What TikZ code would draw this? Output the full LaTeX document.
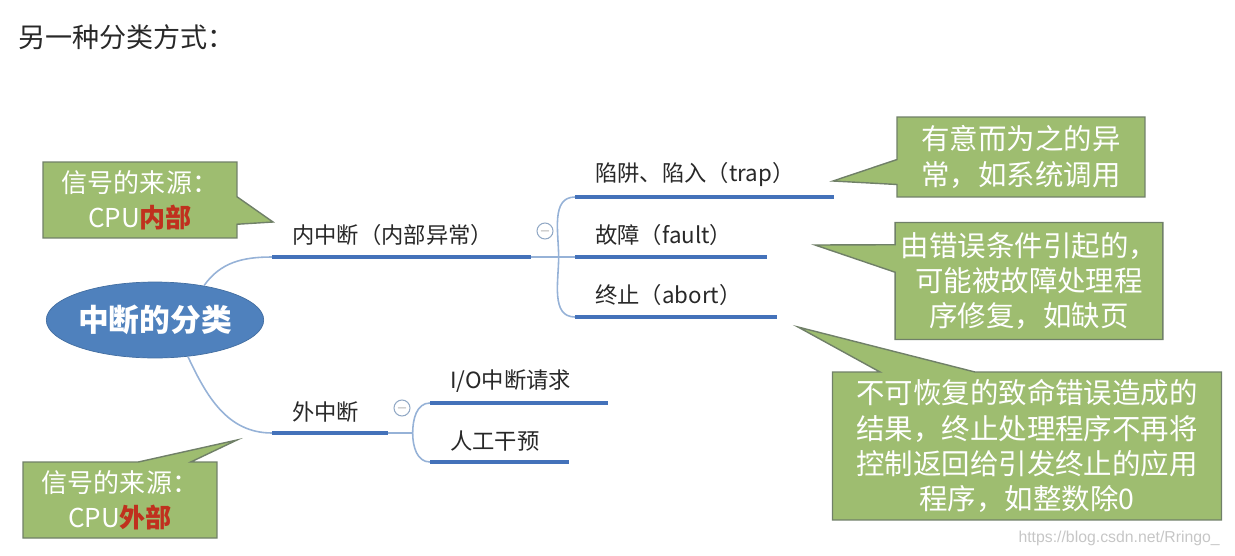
\documentclass[tikz,border=0pt]{standalone}
\usepackage{fontspec}
\setmainfont{Noto Sans CJK SC}
\newfontfamily\urlfont{Liberation Sans}
\usetikzlibrary{shapes.geometric, shapes.callouts}
\usetikzlibrary{positioning,calc}
\definecolor{rootBlue}{RGB}{79,129,189}
\definecolor{lineBlue}{RGB}{68,114,186}
\definecolor{linkBlue}{RGB}{150,178,215}
\definecolor{noteGreen}{RGB}{158,189,112}
\definecolor{noteEdge}{RGB}{112,128,104}
\definecolor{noteRed}{RGB}{192,48,30}
\definecolor{textGray}{RGB}{40,40,40}

\begin{document}
\begin{tikzpicture}[x=0.02cm, y=-0.02cm]
	%defines
	\tikzstyle{root} = [ellipse, minimum width=4.34cm, minimum height=1.52cm, inner sep=0pt, fill=rootBlue, draw=rootBlue!85!black, text=white, font=\fontsize{17.5}{20}\selectfont\bfseries]
	\tikzstyle{topic} = [anchor=south west, inner xsep=0.4cm, inner ysep=6pt, align=left, text=textGray, font=\fontsize{12.7}{15}\selectfont]
	\tikzstyle{underline} = [lineBlue, line width=2.2pt]
	\tikzstyle{link} = [linkBlue, line width=0.9pt]
	\tikzstyle{fold} = [circle, draw=linkBlue!80!gray, line width=0.6pt, minimum size=0.32cm, inner sep=0pt, text=gray, font=\scriptsize]
	\tikzstyle{note} = [rectangle callout, fill=noteGreen, draw=noteEdge, line width=0.8pt, text=white, align=center, font=\fontsize{16.2}{20}\selectfont]
	\tikzstyle{sourceNote} = [note, minimum width=3.88cm, minimum height=1.52cm, font=\fontsize{14.8}{20}\selectfont]
	\useasboundingbox (0,0) rectangle (1235,555);
	%chart
	\node[anchor=west, text=textGray, font=\fontsize{15.4}{18}\selectfont] (title) at (12,37) {另一种分类方式：};
	\node (interruptTypes) [root] at (155,320) {中断的分类};
	\node (innerInterrupt) [topic, text width=4.36cm] at (272,257) {内中断（内部异常）};
	\node (trapTopic) [topic, text width=4.36cm] at (575,197) {陷阱、陷入（trap）};
	\node (faultTopic) [topic, text width=3.02cm] at (575,257) {故障（fault）};
	\node (abortTopic) [topic, text width=3.22cm] at (575,317) {终止（abort）};
	\node (outerInterrupt) [topic, text width=1.5cm] at (272,433) {外中断};
	\node (ioTopic) [topic, text width=2.74cm] at (430,403) {I/O中断请求};
	\node (manualTopic) [topic, text width=1.96cm] at (430,462) {人工干预};
	\node (innerFold) [fold] at (545,231) {$-$};
	\node (outerFold) [fold] at (402,408) {$-$};
	%links
	\draw [link] (interruptTypes.35) to[out=55,in=180] (innerInterrupt.south west);
	\draw [link] (interruptTypes.-48) to[out=-65,in=180] (outerInterrupt.south west);
	\draw [link] (innerInterrupt.south east) -- ++(28,0) coordinate (innerFork);
	\draw [link] (innerFork) to[out=90,in=180] (trapTopic.south west) (innerFork) -- (faultTopic.south west) (innerFork) to[out=-90,in=180] (abortTopic.south west);
	\draw [link] (outerInterrupt.south east) -- ++(25,0) coordinate (outerFork);
	\draw [link] (outerFork) to[out=90,in=180] (ioTopic.south west) (outerFork) to[out=-90,in=180] (manualTopic.south west);
	\draw [underline] (innerInterrupt.south west) -- (innerInterrupt.south east) (trapTopic.south west) -- (trapTopic.south east) (faultTopic.south west) -- (faultTopic.south east) (abortTopic.south west) -- (abortTopic.south east);
	\draw [underline] (outerInterrupt.south west) -- (outerInterrupt.south east) (ioTopic.south west) -- (ioTopic.south east) (manualTopic.south west) -- (manualTopic.south east);
	%notes
	\coordinate (innerTip) at (273,222);
	\coordinate (outerTip) at (237,440);
	\coordinate (trapTip) at (833,181);
	\coordinate (faultTip) at (815,245);
	\coordinate (abortTip) at (798,327);
	\node (innerSource) [sourceNote, callout absolute pointer={(innerTip)}, callout pointer width=0.55cm] at (140,200) {信号的来源：\\CPU\textcolor{noteRed}{\bfseries 内部}};
	\node (outerSource) [sourceNote, callout absolute pointer={(outerTip)}, callout pointer width=1.05cm] at (120,500) {信号的来源：\\CPU\textcolor{noteRed}{\bfseries 外部}};
	\node (trapNote) [note, minimum width=4.96cm, minimum height=1.6cm, callout absolute pointer={(trapTip)}, callout pointer width=0.5cm] at (1021,157) {有意而为之的异\\常，如系统调用};
	\node (faultNote) [note, minimum width=5.24cm, minimum height=2.34cm, callout absolute pointer={(faultTip)}, callout pointer width=0.55cm] at (1029,281) {由错误条件引起的，\\可能被故障处理程\\序修复，如缺页};
	\node (abortNote) [note, minimum width=7.78cm, minimum height=2.96cm, callout absolute pointer={(abortTip)}, callout pointer width=1.9cm] at (1027,446) {不可恢复的致命错误造成的\\结果，终止处理程序不再将\\控制返回给引发终止的应用\\程序，如整数除0};
	\node (watermark) [anchor=east, text=gray!45, font=\urlfont\fontsize{9}{10}\selectfont] at (1226,538) {https://blog.csdn.net/Rringo\_};
\end{tikzpicture}
\end{document}
